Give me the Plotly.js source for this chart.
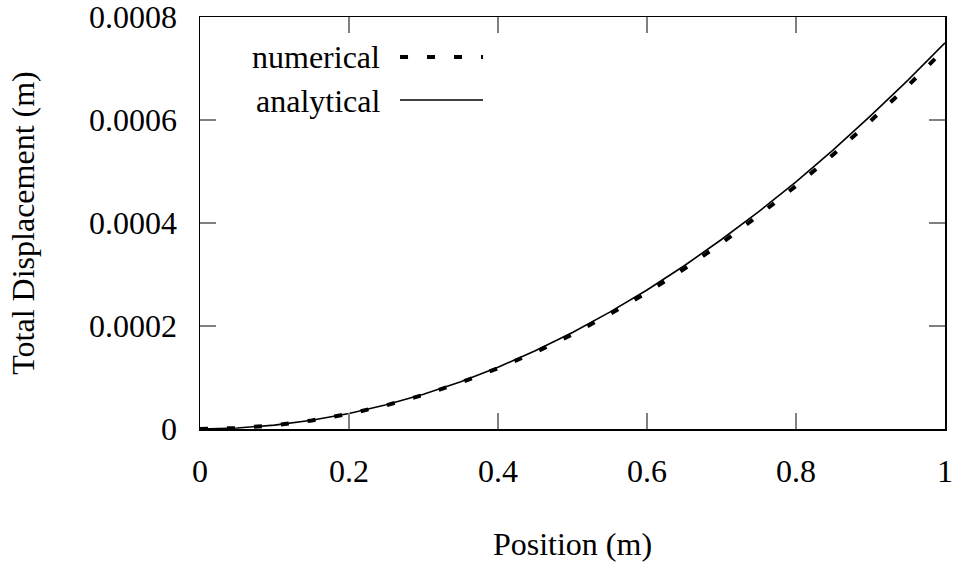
<!DOCTYPE html>
<html>
<head>
<meta charset="utf-8">
<script src="https://cdn.plot.ly/plotly-3.0.1.min.js"></script>
<style>html,body{margin:0;padding:0;background:#fff;}#chart{width:955px;height:565px;}</style>
</head>
<body>
<div id="chart"></div>
<script>
// Data
const positions = [0, 0.05, 0.1, 0.15, 0.2, 0.25, 0.3, 0.35, 0.4, 0.45, 0.5, 0.55, 0.6, 0.65, 0.7, 0.75, 0.8, 0.85, 0.9, 0.95, 1];
const analyticalDisp = [0, 0.0000019, 0.0000075, 0.0000169, 0.00003, 0.0000469, 0.0000675, 0.0000919, 0.00012, 0.000152, 0.0001875, 0.000227, 0.00027, 0.000317, 0.000368, 0.000422, 0.00048, 0.000542, 0.000608, 0.000677, 0.00075];
const numericalDisp = [0, 0.0000018, 0.0000073, 0.0000165, 0.0000294, 0.000046, 0.0000663, 0.0000903, 0.000118, 0.000149, 0.000184, 0.000223, 0.000265, 0.000311, 0.000361, 0.000415, 0.000472, 0.000533, 0.000598, 0.000666, 0.000738];
const seriesNames = ["numerical", "analytical"];
const xTickVals = [0, 0.2, 0.4, 0.6, 0.8, 1];
const xTickText = ["0", "0.2", "0.4", "0.6", "0.8", "1"];
const yTickVals = [0, 0.0002, 0.0004, 0.0006, 0.0008];
const yTickText = ["0", "0.0002", "0.0004", "0.0006", "0.0008"];
const xTitle = "Position (m)";
const yTitle = "Total Displacement (m)";

const FONT = "Liberation Serif, Times New Roman, serif";
const dashStyle = "8px,19px";

const traces = [
  {x: positions, y: numericalDisp, name: seriesNames[0], mode: "lines",
   line: {color: "#000", width: 4, dash: dashStyle}, showlegend: false},
  {x: positions, y: analyticalDisp, name: seriesNames[1], mode: "lines",
   line: {color: "#000", width: 1.6}, showlegend: false}
];

const axisCommon = {
  showline: true, linecolor: "#000", linewidth: 1.5, mirror: "ticks",
  ticks: "inside", ticklen: 16, tickwidth: 1.5, tickcolor: "#808080",
  showgrid: false, zeroline: false, automargin: false,
  ticklabeloverflow: "allow",
  tickfont: {family: FONT, size: 32, color: "#000"}
};

const layout = {
  width: 955, height: 565,
  margin: {l: 200, r: 10, t: 17, b: 136},
  paper_bgcolor: "#fff", plot_bgcolor: "#fff",
  font: {family: FONT, size: 32, color: "#000"},
  showlegend: false,
  xaxis: Object.assign({}, axisCommon, {
    range: [0, 1.000001], tickmode: "array", tickvals: xTickVals, ticktext: xTickText,
    ticklabelstandoff: 13,
    title: {text: xTitle, font: {family: FONT, size: 32, color: "#000"}, standoff: 44}
  }),
  yaxis: Object.assign({}, axisCommon, {
    range: [0, 0.0008000008], tickmode: "array", tickvals: yTickVals, ticktext: yTickText,
    ticklabelstandoff: 15,
    title: {text: yTitle, font: {family: FONT, size: 32, color: "#000"}, standoff: 45}
  }),
  annotations: [
    {xref: "paper", yref: "paper", x: 0.2443, y: 0.902, xanchor: "right", yanchor: "middle",
     text: seriesNames[0], showarrow: false, font: {family: FONT, size: 32, color: "#000"}},
    {xref: "paper", yref: "paper", x: 0.2443, y: 0.797, xanchor: "right", yanchor: "middle",
     text: seriesNames[1], showarrow: false, font: {family: FONT, size: 32, color: "#000"}}
  ],
  shapes: [
    {type: "line", xref: "paper", yref: "paper", x0: 0.2685, x1: 0.3799, y0: 0.903, y1: 0.903,
     line: {color: "#000", width: 4, dash: dashStyle}},
    {type: "line", xref: "paper", yref: "paper", x0: 0.2685, x1: 0.3799, y0: 0.7985, y1: 0.7985,
     line: {color: "#000", width: 1.6}}
  ]
};

Plotly.newPlot("chart", traces, layout, {displayModeBar: false, staticPlot: true});
</script>
</body>
</html>
